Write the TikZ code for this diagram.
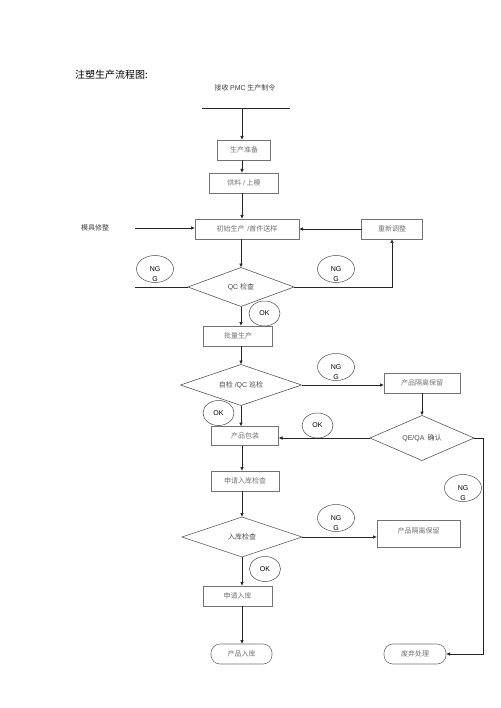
\documentclass[tikz,border=0pt]{standalone}
\usepackage{fontspec}
\setmainfont{Liberation Sans}
\newfontfamily\cjk{Noto Sans CJK SC}
\usetikzlibrary{shapes.geometric,arrows.meta}
\begin{document}
\begin{tikzpicture}[x=1pt,y=-1pt,
  every node/.style={inner sep=0pt,outer sep=0pt},
  box/.style={draw=black!55,line width=0.6pt,minimum height=20pt,font=\cjk\fontsize{7}{8}\selectfont,text=black!55},
  rbox/.style={box,rounded corners=9pt},
  dia/.style={diamond,draw=black!65,line width=0.6pt,aspect=3,font=\fontsize{7}{8}\selectfont,text=black!70},
  ng/.style={ellipse,draw=black!70,line width=0.5pt,minimum width=37pt,minimum height=27pt,font=\fontsize{7}{8}\selectfont,label={[font=\fontsize{7}{8}\selectfont,label distance=-6pt]below:G}},
  ok/.style={ellipse,draw=black!70,line width=0.5pt,minimum width=31pt,minimum height=25pt,font=\fontsize{7}{8}\selectfont},
  plain/.style={font=\cjk\fontsize{7}{8}\selectfont,text=black!75},
  ln/.style={draw=black!85,line width=0.7pt},
  arr/.style={ln,-{Latex[length=4pt,width=3.5pt]}}]
\useasboundingbox (0,0) rectangle (500,708);
\fill[white] (0,0) rectangle (500,708);

% texts
\node[font=\cjk\fontsize{10}{12}\selectfont,anchor=west] (title) at (75,75) {注塑生产流程图:};
\node[plain] (order) at (245,88) {接收 {\fontsize{7}{8}\selectfont\rmfamily PMC} 生产制令};
\node[plain] (mold) at (95,228) {模具修整};

% boxes
\node[box,minimum width=53pt] (prep) at (244,150) {生产准备};
\node[box,minimum width=69pt] (dry) at (244,183) {烘料 {\rmfamily/} 上模};
\node[box,minimum width=104pt] (init) at (247,229) {初始生产\, {\rmfamily/}首件送样};
\node[box,minimum width=61pt] (redo) at (392,229) {重新调整};
\node[box,minimum width=69pt] (batch) at (238,336) {批量生产};
\node[box,minimum width=76pt] (iso1) at (422,383) {产品隔离保留};
\node[box,minimum width=67pt,minimum height=19pt] (pack) at (245,436) {产品包装};
\node[box,minimum width=68pt] (apply) at (245,481) {申请入库检查};
\node[box,minimum width=83pt,minimum height=27pt,text depth=5pt] (iso2) at (418.5,533.5) {产品隔离保留};
\node[box,minimum width=69pt] (applyin) at (237.5,596) {申请入库};
\node[rbox,minimum width=61pt] (prodin) at (241.5,654) {产品入库};
\node[rbox,minimum width=62pt] (scrap) at (415,654) {废弃处理};

% diamonds
\node[dia,minimum width=106pt,minimum height=39pt] (qc) at (241,287) {QC {\cjk 检查}};
\node[dia,minimum width=121pt,minimum height=41pt] (self) at (241,385) {{\cjk 自检} /QC {\cjk 巡检}};
\node[dia,minimum width=104pt,minimum height=45pt] (qe) at (422,438) {QE/QA\, {\cjk 确认}};
\node[dia,minimum width=120pt,minimum height=40pt] (stock) at (242,537) {{\cjk 入库检查}};

% NG / OK
\node[ng] (ng1) at (155,269) {NG};
\node[ng] (ng2) at (336,269) {NG};
\node[ng] (ng3) at (336,367) {NG};
\node[ng] (ng4) at (463,488) {NG};
\node[ng] (ng5) at (336,518) {NG};
\node[ok] (ok1) at (264.5,313.5) {OK};
\node[ok] (ok2) at (218.5,413) {OK};
\node[ok] (ok3) at (317.5,425.5) {OK};
\node[ok] (ok4) at (265,569) {OK};

% coordinates
\coordinate (col) at (242,0);
\coordinate (tl) at (202,108);
\coordinate (tr) at (290,108);
\coordinate (tm) at (242,108);
\coordinate (m1) at (135,228);
\coordinate (ql) at (135,287);
\coordinate (rc) at (483,438);

% connectors
\draw[ln] (tl) -- (tr);
\draw[arr] (tm) -- (prep.north -| col);
\draw[arr] (prep.south -| col) -- (dry.north -| col);
\draw[arr] (dry.south -| col) -- (init.north -| col);
\draw[arr] (m1) -- (init.west |- m1);
\draw[arr] (redo.west) -- (init.east);
\draw[arr] (init.south -| qc.north) -- (qc.north);
\draw[ln] (qc.west) -- (ql);
\draw[arr] (qc.east) -| (redo.south);
\draw[arr] (qc.south) -- (batch.north -| qc.south);
\draw[arr] (batch.south -| self.north) -- (self.north);
\draw[arr] (self.east) -- (self.east -| iso1.west);
\draw[arr] (iso1.south) -- (qe.north);
\draw[arr] (self.south) -- (pack.north -| self.south);
\draw[arr] (qe.west) -- (qe.west -| pack.east);
\draw[arr] (pack.south -| col) -- (apply.north -| col);
\draw[arr] (apply.south -| col) -- (stock.north);
\draw[arr] (stock.east) -- (stock.east -| iso2.west);
\draw[arr] (stock.south) -- (applyin.north -| stock.south);
\draw[arr] (applyin.south -| col) -- (prodin.north -| col);
\draw[arr] (qe.east) -- (rc) |- (scrap.east);
\end{tikzpicture}
\end{document}
